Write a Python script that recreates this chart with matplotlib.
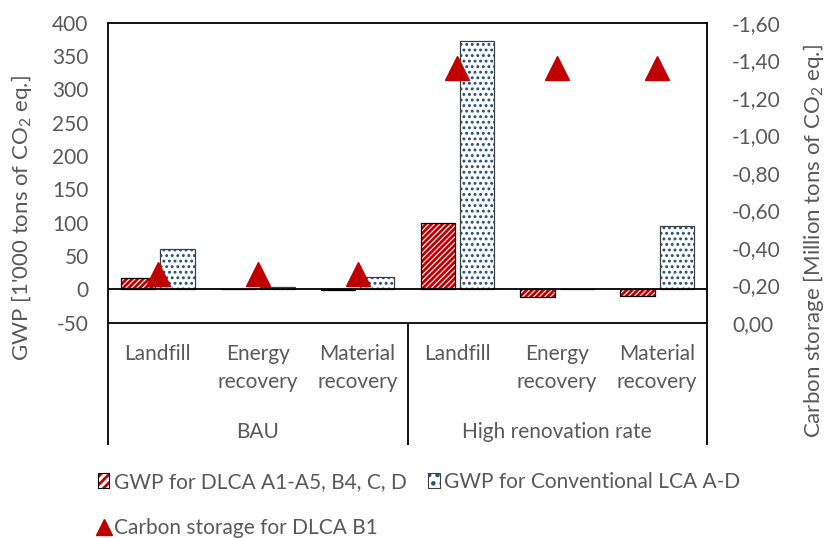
import matplotlib
matplotlib.use("Agg")
import matplotlib.pyplot as plt
import matplotlib.transforms as mtransforms
from matplotlib.patches import Patch
from matplotlib.lines import Line2D
from matplotlib.legend_handler import HandlerTuple

# ---------------- data ----------------
categories = ["Landfill", "Energy\nrecovery", "Material\nrecovery",
              "Landfill", "Energy\nrecovery", "Material\nrecovery"]
groups = ["BAU", "High renovation rate"]
gwp_dlca = [17, 0.5, -0.5, 99, -12, -10]          # 1'000 t CO2 eq.
gwp_conv = [60, 4, 18, 373, 0.5, 95]             # 1'000 t CO2 eq.
carbon_storage = [-0.26, -0.26, -0.26, -1.36, -1.36, -1.36]  # Mt CO2 eq.
left_ticks = list(range(-50, 401, 50))
right_ticks = [0.0, -0.2, -0.4, -0.6, -0.8, -1.0, -1.2, -1.4, -1.6]

series_names = ["GWP for DLCA A1-A5, B4, C, D",
                "GWP for Conventional LCA A-D",
                "Carbon storage for DLCA B1"]

# ---------------- style ----------------
FONT = "Lato"
FS = 15
FS_TITLE = 16
GRAY = "#595959"
RED = "#C00000"
BLUE = "#1F4E79"
plt.rcParams["font.family"] = [FONT, "DejaVu Sans"]
plt.rcParams["mathtext.fontset"] = "custom"
plt.rcParams["mathtext.rm"] = FONT
plt.rcParams["mathtext.it"] = FONT + ":italic"
plt.rcParams["hatch.linewidth"] = 2.0

W, H = 830, 538
fig = plt.figure(figsize=(W / 100, H / 100), dpi=100)
ax = fig.add_axes([108 / W, 1 - 322.7 / H, 599 / W, 300 / H])

x = list(range(len(categories)))
bw = 0.345
off = 0.197

RED_HATCH = "//////"
BLUE_HATCH = "..."

# red hatched bars (hatch layer + black outline)
xr = [i - off for i in x]
xb = [i + off for i in x]
ax.bar(xr, gwp_dlca, width=bw, facecolor="white", edgecolor=RED,
       hatch=RED_HATCH, linewidth=0, zorder=2)
ax.bar(xr, gwp_dlca, width=bw, facecolor="none", edgecolor="black",
       linewidth=0.9, zorder=3)
hb = ax.bar(xb, gwp_conv, width=bw, facecolor="white", edgecolor=BLUE,
            hatch=BLUE_HATCH, linewidth=0, zorder=2)
for p in hb:
    if hasattr(p, "set_hatch_linewidth"):
        p.set_hatch_linewidth(1.3)
ax.bar(xb, gwp_conv, width=bw, facecolor="none", edgecolor="#404040",
       linewidth=0.9, zorder=3)

ax.axhline(0, color="black", lw=1.3, zorder=4)
ax.set_xlim(-0.5, len(categories) - 0.5)
ax.set_ylim(-50, 400)
ax.set_yticks(left_ticks)
ax.set_yticklabels([str(t) for t in left_ticks])
ax.tick_params(axis="y", length=0, pad=14, labelsize=FS, labelcolor=GRAY)
ax.set_xticks(x)
ax.set_xticklabels(categories, linespacing=1.5)
ax.tick_params(axis="x", length=0, pad=15, labelsize=FS, labelcolor=GRAY)
for s in ax.spines.values():
    s.set_color("black")
    s.set_linewidth(1.3)

# group labels and separators
trans = mtransforms.blended_transform_factory(ax.transData, ax.transAxes)
for gi, g in enumerate(groups):
    ax.text(gi * 3 + 1, -0.363, g, transform=trans, ha="center", va="center",
            fontsize=FS, color=GRAY)
for xv in [-0.5, 2.5, 5.5]:
    ax.plot([xv, xv], [0, -0.408], transform=trans, color="black", lw=1.3,
            clip_on=False, solid_capstyle="butt")

# secondary axis
ax2 = ax.twinx()
ax2.set_ylim(0, -1.6)
ax2.set_yticks(right_ticks)
ax2.set_yticklabels([f"{abs(t):.2f}".replace(".", ",") if t == 0 else
                     f"{t:.2f}".replace(".", ",") for t in right_ticks])
ax2.tick_params(axis="y", length=0, pad=18, labelsize=FS, labelcolor=GRAY)
for s in ax2.spines.values():
    s.set_visible(False)
ax2.plot(x, carbon_storage, linestyle="none", marker="^", markersize=17,
         color=RED, zorder=5)

# axis titles
fig.text(22 / W, 1 - 218 / H, "GWP [1'000 tons of CO$_2$ eq.]", rotation=90,
         ha="center", va="center", fontsize=FS_TITLE, color=GRAY)
fig.text(813 / W, 1 - 241 / H, "Carbon storage [Million tons of CO$_2$ eq.]",
         rotation=90, ha="center", va="center", fontsize=FS_TITLE, color=GRAY)

# legend
h_dlca = (Patch(facecolor="white", edgecolor=RED, hatch="////", linewidth=0),
          Patch(facecolor="none", edgecolor="black", linewidth=0.8))
h_conv = (Patch(facecolor="white", edgecolor=BLUE, hatch="..", linewidth=0),
          Patch(facecolor="none", edgecolor="#404040", linewidth=0.8))
h_tri = Line2D([], [], linestyle="none", marker="^", markersize=12, color=RED)
leg = fig.legend([h_dlca, h_tri, h_conv],
                 [series_names[0], series_names[2], series_names[1]],
                 ncol=2, loc="upper left", bbox_to_anchor=(98 / W, 1 - 472 / H),
                 frameon=False, fontsize=FS, handlelength=0.55, handleheight=0.7,
                 handletextpad=0.2, columnspacing=1.05, labelspacing=1.25,
                 borderpad=0, borderaxespad=0,
                 handler_map={tuple: HandlerTuple(ndivide=1, pad=0)})
for t in leg.get_texts():
    t.set_color(GRAY)

fig.savefig("out.png", dpi=100)
